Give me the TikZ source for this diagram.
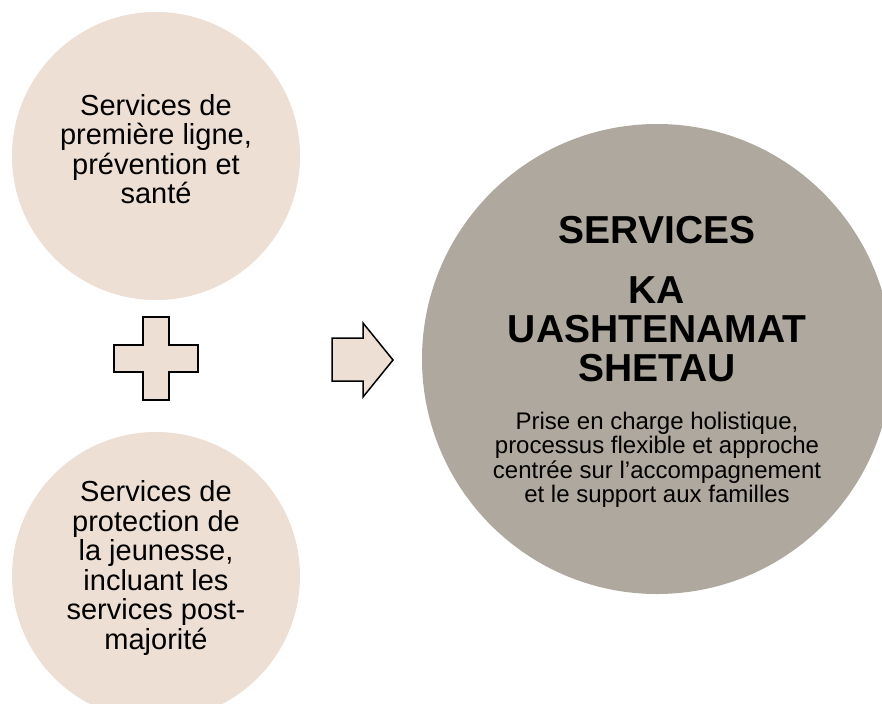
\documentclass[tikz,border=0pt]{standalone}
\usepackage{fontspec}
\setmainfont{Liberation Sans}
\definecolor{pale}{HTML}{EDDFD4}
\definecolor{stone}{HTML}{AFA89E}
\tikzset{
  smallcirc/.style={circle, fill=pale, draw=none, minimum size=288bp, inner sep=0pt},
  bigcirc/.style={circle, fill=stone, draw=none, minimum size=470bp, inner sep=0pt},
  circtext/.style={align=center, inner sep=0pt, font=\fontsize{29bp}{29.5bp}\selectfont},
  titletext/.style={align=center, inner sep=0pt, font=\fontsize{39bp}{39bp}\selectfont\bfseries},
  subtext/.style={align=center, inner sep=0pt, font=\fontsize{24bp}{24.5bp}\selectfont},
  shapeline/.style={fill=pale, draw=black, line width=1.5bp, line join=miter}
}
\begin{document}
\begin{tikzpicture}[x=1bp,y=-1bp]
\useasboundingbox (0,0) rectangle (882,704);
\clip (0,0) rectangle (882,704);
\node[smallcirc] (top) at (156,156) {};
\node[smallcirc] (bottom) at (156,576) {};
\node[bigcirc] (big) at (657,359) {};
\node[circtext] (toptext) at (156,149) {Services de\\première ligne,\\prévention et\\santé};
\node[circtext] (bottomtext) at (156,568) {Services de\\protection de\\la jeunesse,\\incluant les\\services post-\\majorité};
\node[titletext] (title) at (657,299) {SERVICES\\[21bp]KA\\UASHTENAMAT\\SHETAU};
\node[subtext] (sub) at (657,460) {Prise en charge holistique,\\processus flexible et approche\\centrée sur l’accompagnement\\et le support aux familles};
\draw[shapeline] (143,317) -- (169,317) -- (169,345) -- (198,345) -- (198,372) -- (169,372) -- (169,400) -- (143,400) -- (143,372) -- (114,372) -- (114,345) -- (143,345) -- cycle;
\draw[shapeline] (332,338) -- (363,338) -- (363,323) -- (393,360) -- (363,397) -- (363,381) -- (332,381) -- cycle;
\end{tikzpicture}
\end{document}
